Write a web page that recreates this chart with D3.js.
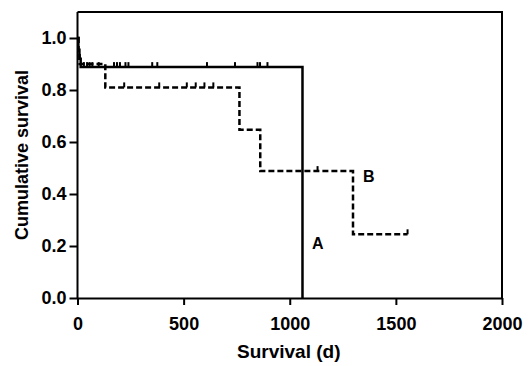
<!DOCTYPE html>
<html>
<head>
<meta charset="utf-8">
<script src="https://cdn.jsdelivr.net/npm/d3@7"></script>
<style>
  body { margin: 0; background: #fff; }
  svg text { font-family: "Liberation Sans", Arial, sans-serif; font-weight: bold; fill: #000; }
</style>
</head>
<body>
<svg id="chart" width="532" height="366"></svg>
<script>
// tick values
const xTicks = [0, 500, 1000, 1500, 2000];
const yTicks = [0, 0.2, 0.4, 0.6, 0.8, 1.0];

// group A (solid) - step times and survival
const timeA = [0, 4, 9, 15, 1060];
const survA = [1.0, 0.955, 0.92, 0.888, 0];
const censorA = [30, 45, 57, 70, 100, 172, 186, 200, 226, 240, 352, 376, 610, 742, 848, 860, 895];

// group B (dashed)
const timeB = [0, 5, 10, 131, 763, 861, 1298, 1555];
const survB = [1.0, 0.95, 0.9, 0.81, 0.647, 0.488, 0.245, 0.245];
const censorB = [220, 385, 515, 557, 598, 640, 1131, 1555];

const svg = d3.select('#chart');

const x = d3.scaleLinear().domain([0, 2000]).range([77.5, 502]);
const y = d3.scaleLinear().domain([0, 1.1]).range([298, 12]);

// frame top + right
svg.append('path')
  .attr('d', 'M' + x(0) + ',' + y(1.1) + 'H' + x(2000) + 'V' + y(0))
  .attr('fill', 'none')
  .attr('stroke', '#000')
  .attr('stroke-width', 2);

// axes
const xAxis = svg.append('g')
  .attr('transform', 'translate(0,' + y(0) + ')')
  .call(d3.axisBottom(x).tickValues(xTicks).tickSize(7).tickSizeOuter(0).tickPadding(12).tickFormat(d3.format('d')));
const yAxis = svg.append('g')
  .attr('transform', 'translate(' + x(0) + ',0)')
  .call(d3.axisLeft(y).tickValues(yTicks).tickSize(8).tickSizeOuter(0).tickPadding(3).tickFormat(d3.format('.1f')));

[xAxis, yAxis].forEach(a => {
  a.select('.domain').attr('stroke-width', 2);
  a.selectAll('.tick line').attr('stroke-width', 2);
  a.selectAll('.tick text')
    .style('font-size', '18px')
    .style('font-family', '"Liberation Sans", Arial, sans-serif')
    .style('font-weight', 'bold');
});
// y-axis line goes up to frame top
yAxis.select('.domain').attr('d', 'M0,' + y(1.1) + 'V' + y(0));

// step lines
const line = d3.line()
  .x(d => x(d[0]))
  .y(d => y(d[1]))
  .curve(d3.curveStepAfter);

function drawCurve(times, surv, censor, dash) {
  const pts = times.map((t, i) => [t, surv[i]]);
  svg.append('path')
    .datum(pts)
    .attr('d', line)
    .attr('fill', 'none')
    .attr('stroke', '#000')
    .attr('stroke-width', 2.5)
    .attr('stroke-dasharray', dash);

  // censor marks
  const survAt = t => {
    let s = surv[0];
    times.forEach((tt, i) => { if (tt <= t) s = surv[i]; });
    return s;
  };
  svg.append('g')
    .selectAll('line')
    .data(censor)
    .enter()
    .append('line')
    .attr('x1', d => x(d))
    .attr('x2', d => x(d))
    .attr('y1', d => y(survAt(d)))
    .attr('y2', d => y(survAt(d)) - 5)
    .attr('stroke', '#000')
    .attr('stroke-width', 2);
}

drawCurve(timeB, survB, censorB, '6,3');
drawCurve(timeA, survA, censorA, null);

// curve labels
svg.append('text').attr('x', x(1105)).attr('y', y(0.19)).text('A')
  .style('font-size', '16px');
svg.append('text').attr('x', x(1345)).attr('y', y(0.445)).text('B')
  .style('font-size', '16px');

// axis titles
svg.append('text')
  .attr('x', (x(0) + x(2000)) / 2 - 1)
  .attr('y', 358)
  .attr('text-anchor', 'middle')
  .style('font-size', '19px')
  .text('Survival (d)');

svg.append('text')
  .attr('transform', 'translate(28,' + y(0.55) + ') rotate(-90)')
  .attr('text-anchor', 'middle')
  .style('font-size', '18px')
  .text('Cumulative survival');
</script>
</body>
</html>
